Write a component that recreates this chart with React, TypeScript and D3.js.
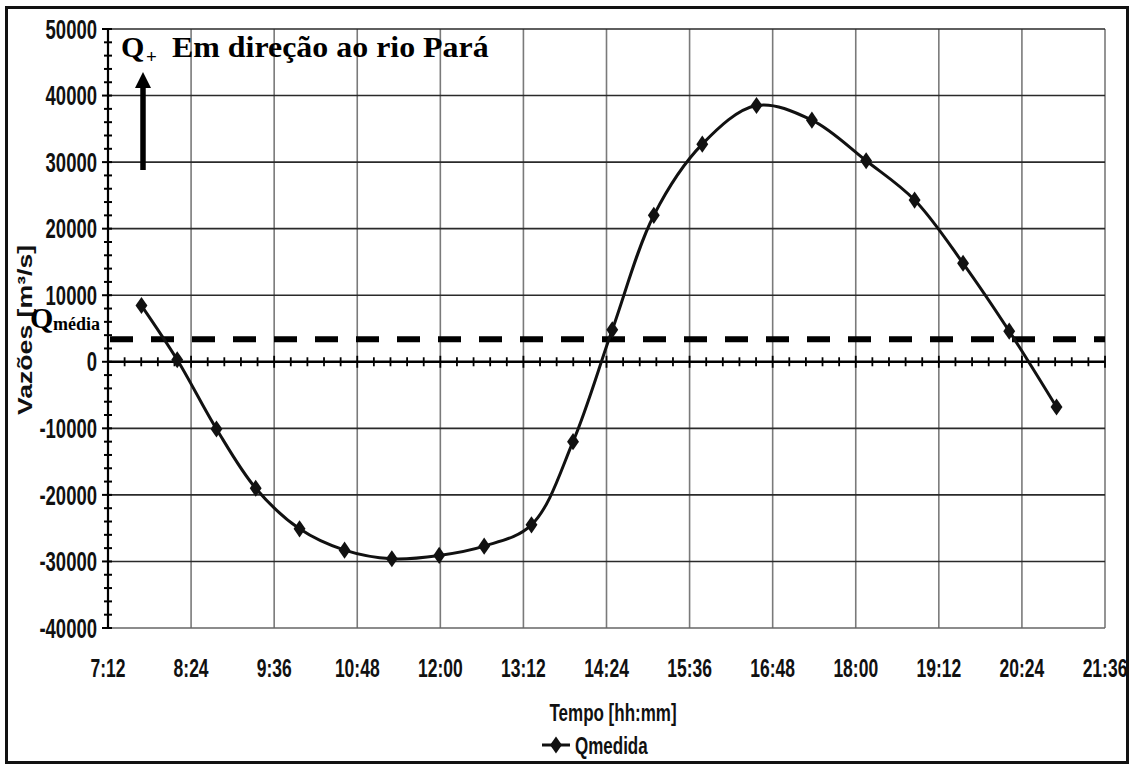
import * as d3 from "d3";
import { useEffect, useRef } from "react";

// measured discharge (Qmedida), time as hh:mm
const times = [
  "7:41", "8:12", "8:46", "9:20", "9:58", "10:37", "11:18", "11:59", "12:38", "13:19", "13:55",
  "14:29", "15:05", "15:47", "16:34", "17:22", "18:09", "18:51", "19:33", "20:13", "20:54",
];
const qmedida = [
  8450, 300, -10100, -19000, -25100, -28300, -29600, -29100, -27700, -24500, -12000,
  4800, 22000, 32700, 38500, 36300, 30200, 24300, 14800, 4600, -6800,
];
const xTickLabels = [
  "7:12", "8:24", "9:36", "10:48", "12:00", "13:12", "14:24", "15:36", "16:48", "18:00", "19:12", "20:24", "21:36",
];
const yTicks = [50000, 40000, 30000, 20000, 10000, 0, -10000, -20000, -30000, -40000];
const qMedia = 3400;

const toMin = (s: string) => {
  const [h, m] = s.split(":").map(Number);
  return h * 60 + m;
};

export default function App() {
  const svgRef = useRef<SVGSVGElement | null>(null);

  useEffect(() => {
    if (!svgRef.current) return;
    const svg = d3.select(svgRef.current);
    svg.selectAll("*").remove();

    const left = 108, right = 1105, top = 29, bottom = 628;
    const sans = "'Liberation Sans', Arial, sans-serif";
    const serif = "'Liberation Serif', 'Times New Roman', serif";
    const ky = 1.45; // labels look stretched vertically

    const x = d3
      .scaleLinear()
      .domain([toMin(xTickLabels[0]), toMin(xTickLabels[xTickLabels.length - 1])])
      .range([left, right]);
    const y = d3.scaleLinear().domain([-40000, 50000]).range([bottom, top]);

    // outer frame
    svg.append("rect")
      .attr("x", 6.5).attr("y", 7.5).attr("width", 1121).attr("height", 755)
      .attr("fill", "white").attr("stroke", "#111").attr("stroke-width", 3);

    const g = svg.append("g");

    // vertical gridlines
    xTickLabels.forEach((t) => {
      g.append("line")
        .attr("x1", x(toMin(t))).attr("x2", x(toMin(t)))
        .attr("y1", top).attr("y2", bottom)
        .attr("stroke", "#7a7a7a").attr("stroke-width", 1.6);
    });
    // horizontal gridlines
    yTicks.forEach((v) => {
      if (v === 0) return;
      g.append("line")
        .attr("x1", left).attr("x2", right)
        .attr("y1", y(v)).attr("y2", y(v))
        .attr("stroke", v === -40000 ? "#666" : "#2a2a2a").attr("stroke-width", 1.6);
    });

    // y axis with minor ticks
    g.append("line")
      .attr("x1", left).attr("x2", left).attr("y1", top).attr("y2", bottom)
      .attr("stroke", "#000").attr("stroke-width", 2.2);
    const yMinor = d3.range(-40000, 50001, 2000);
    yMinor.forEach((v) => {
      const major = v % 10000 === 0;
      g.append("line")
        .attr("x1", left - (major ? 6 : 4)).attr("x2", left + 4)
        .attr("y1", y(v)).attr("y2", y(v))
        .attr("stroke", "#000").attr("stroke-width", 2);
    });

    // zero line with ticks
    g.append("line")
      .attr("x1", left).attr("x2", right).attr("y1", y(0)).attr("y2", y(0))
      .attr("stroke", "#000").attr("stroke-width", 2.6);
    const x0 = toMin(xTickLabels[0]);
    d3.range(0, 12 * 72 + 1, 14.4).forEach((m) => {
      const major = Math.round(m) % 72 === 0;
      const px = x(x0 + m);
      g.append("line")
        .attr("x1", px).attr("x2", px)
        .attr("y1", y(0) - (major ? 6 : 4.5)).attr("y2", y(0) + (major ? 6 : 4.5))
        .attr("stroke", "#000").attr("stroke-width", 1.8);
    });

    // Q media dashed line
    g.append("line")
      .attr("x1", left + 2).attr("x2", right).attr("y1", y(qMedia)).attr("y2", y(qMedia))
      .attr("stroke", "#000").attr("stroke-width", 6)
      .attr("stroke-dasharray", "23,18");

    // y tick labels
    yTicks.forEach((v) => {
      g.append("text")
        .attr("transform", `translate(97,${y(v)}) scale(1,${ky})`)
        .attr("text-anchor", "end").attr("dy", "0.36em")
        .attr("font-family", sans).attr("font-weight", "bold").attr("font-size", 18.5)
        .attr("fill", "#111")
        .text(String(v));
    });

    // x tick labels
    xTickLabels.forEach((t) => {
      g.append("text")
        .attr("transform", `translate(${x(toMin(t))},668) scale(1,${ky})`)
        .attr("text-anchor", "middle").attr("dy", "0.36em")
        .attr("font-family", sans).attr("font-weight", "bold").attr("font-size", 17.5)
        .attr("fill", "#111")
        .text(t);
    });

    // axis titles
    g.append("text")
      .attr("transform", `translate(613,712) scale(1,${ky})`)
      .attr("text-anchor", "middle").attr("dy", "0.36em")
      .attr("font-family", sans).attr("font-weight", "bold").attr("font-size", 17)
      .attr("fill", "#111")
      .text("Tempo [hh:mm]");
    g.append("text")
      .attr("transform", `translate(32,330) rotate(-90) scale(1.3,1)`)
      .attr("text-anchor", "middle")
      .attr("font-family", sans).attr("font-weight", "bold").attr("font-size", 20.5)
      .attr("fill", "#111")
      .text("Vazões [m³/s]");

    // data line
    const pts: [number, number][] = times.map((t, i) => [x(toMin(t)), y(qmedida[i])]);
    g.append("path")
      .attr("d", d3.line().curve(d3.curveCatmullRom.alpha(0.5))(pts))
      .attr("fill", "none").attr("stroke", "#111").attr("stroke-width", 3);
    const diamond = d3.symbol().type(d3.symbolDiamond).size(85);
    pts.forEach(([px, py]) => {
      g.append("path")
        .attr("transform", `translate(${px},${py}) scale(1.2,1)`)
        .attr("d", diamond()).attr("fill", "#111");
    });

    // annotations
    g.append("text")
      .attr("x", 121).attr("y", 57)
      .attr("font-family", serif).attr("font-weight", "bold").attr("font-size", 30)
      .attr("fill", "#000").text("Q");
    g.append("text")
      .attr("x", 146).attr("y", 63)
      .attr("font-family", serif).attr("font-weight", "bold").attr("font-size", 19)
      .attr("fill", "#000").text("+");
    g.append("text")
      .attr("transform", "translate(172,57) scale(1.12,1)")
      .attr("font-family", serif).attr("font-weight", "bold").attr("font-size", 28.5)
      .attr("fill", "#000").text("Em direção ao rio Pará");

    // arrow
    g.append("line")
      .attr("x1", 143).attr("x2", 143).attr("y1", 170).attr("y2", 86)
      .attr("stroke", "#000").attr("stroke-width", 5.5);
    g.append("path")
      .attr("d", "M135,88 L143,72 L151,88 Z").attr("fill", "#000");

    g.append("text")
      .attr("x", 30).attr("y", 328)
      .attr("font-family", serif).attr("font-weight", "bold").attr("font-size", 30)
      .attr("fill", "#000").text("Q");
    g.append("text")
      .attr("x", 53).attr("y", 330)
      .attr("font-family", serif).attr("font-weight", "bold").attr("font-size", 18)
      .attr("fill", "#000").text("média");

    // legend
    g.append("line")
      .attr("x1", 542).attr("x2", 570).attr("y1", 745).attr("y2", 745)
      .attr("stroke", "#111").attr("stroke-width", 3);
    g.append("path")
      .attr("transform", "translate(556,745) scale(1.2,1)").attr("d", diamond()).attr("fill", "#111");
    g.append("text")
      .attr("transform", `translate(575,745) scale(1,${ky})`)
      .attr("dy", "0.36em")
      .attr("font-family", sans).attr("font-weight", "bold").attr("font-size", 17)
      .attr("fill", "#111")
      .text("Qmedida");
  }, []);

  return (
    <svg
      ref={svgRef}
      width={1129}
      height={764}
      style={{ position: "absolute", left: 0, top: 0, display: "block", background: "white" }}
    />
  );
}
